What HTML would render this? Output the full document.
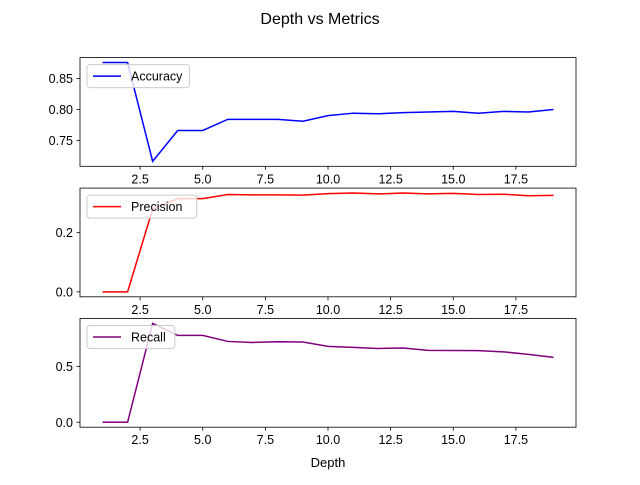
<!DOCTYPE html>
<html><head><meta charset="utf-8"><style>
body{margin:0;background:#fff;}
svg text{font-family:"Liberation Sans","DejaVu Sans",sans-serif;}
</style></head><body>
<svg id="fig" width="640" height="480" xmlns="http://www.w3.org/2000/svg">
<text x="320" y="24" font-size="16" text-anchor="middle">Depth vs Metrics</text>
<g id="plots"></g>
<text x="328" y="467" font-size="13" text-anchor="middle">Depth</text>
</svg>
<script>
const depths=[1,2,3,4,5,6,7,8,9,10,11,12,13,14,15,16,17,18,19];
const accuracy=[0.876,0.876,0.716,0.766,0.766,0.784,0.784,0.784,0.781,0.790,0.794,0.793,0.795,0.796,0.797,0.794,0.797,0.796,0.800];
const precision=[0,0,0.28,0.315,0.315,0.329,0.328,0.328,0.327,0.332,0.334,0.331,0.334,0.331,0.333,0.329,0.330,0.325,0.326];
const recall=[0,0,0.884,0.777,0.777,0.723,0.714,0.72,0.718,0.679,0.67,0.66,0.664,0.643,0.642,0.641,0.63,0.607,0.58];
const xTicks=[2.5,5.0,7.5,10.0,12.5,15.0,17.5];
const accTicks=[0.75,0.80,0.85];
const precTicks=[0.0,0.2];
const recTicks=[0.0,0.5];
const NS="http://www.w3.org/2000/svg";
const g=document.getElementById('plots');
function mk(tag,attrs,parent){const e=document.createElementNS(NS,tag);for(const k in attrs)e.setAttribute(k,attrs[k]);(parent||g).appendChild(e);return e;}
const L=80,R=576;
const xmin=0.1,xmax=19.9;
function xs(v){return L+(v-xmin)/(xmax-xmin)*(R-L);}
const panels=[
 {vals:accuracy,ticks:accTicks,top:57.6,bot:166.3,color:"blue",label:"Accuracy",dec:2,name:"accuracy"},
 {vals:precision,ticks:precTicks,top:188.1,bot:296.8,color:"red",label:"Precision",dec:1,name:"precision"},
 {vals:recall,ticks:recTicks,top:318.5,bot:427.2,color:"purple",label:"Recall",dec:1,name:"recall"}
];
panels.forEach(p=>{
 const mn=Math.min(...p.vals),mx=Math.max(...p.vals),pad=(mx-mn)*0.05;
 const y0=mn-pad,y1=mx+pad;
 const ys=v=>p.bot-(v-y0)/(y1-y0)*(p.bot-p.top);
 const grp=mk('g',{});
 
 
 const d=depths.map((x,i)=>(i?'L':'M')+xs(x).toFixed(2)+','+ys(p.vals[i]).toFixed(2)).join(' ');
 const line=mk('path',{d:d,fill:'none',stroke:p.color,'stroke-width':1.5},grp);
 
 
 const fr=mk('rect',{x:L,y:p.top,width:R-L,height:p.bot-p.top,fill:'none',stroke:'#000','stroke-width':0.8},grp);
 
 
 xTicks.forEach(t=>{
  const x=xs(t);
  mk('line',{x1:x,x2:x,y1:p.bot,y2:p.bot+3.5,stroke:'#000','stroke-width':0.8},grp);
  const tx=mk('text',{x:x,y:p.bot+17,'font-size':12.5,'text-anchor':'middle'},grp);
  tx.textContent=t.toFixed(1);
  
  
 });
 p.ticks.forEach(t=>{
  const y=ys(t);
  mk('line',{x1:L-3.5,x2:L,y1:y,y2:y,stroke:'#000','stroke-width':0.8},grp);
  const tx=mk('text',{x:L-7,y:y+4.5,'font-size':12.5,'text-anchor':'end'},grp);
  tx.textContent=t.toFixed(p.dec);
  
  
 });
 const lg=mk('g',{},grp);
 
 
 const w=p.label.length*7.3+44;
 mk('rect',{x:L+7,y:p.top+7,width:w,height:23,rx:3,fill:'#fff','fill-opacity':0.8,stroke:'#ccc'},lg);
 mk('line',{x1:L+13,x2:L+41,y1:p.top+18.5,y2:p.top+18.5,stroke:p.color,'stroke-width':1.5},lg);
 const lt=mk('text',{x:L+51,y:p.top+23,'font-size':12.5},lg);
 lt.textContent=p.label;
 
 
});
</script>
</body></html>
